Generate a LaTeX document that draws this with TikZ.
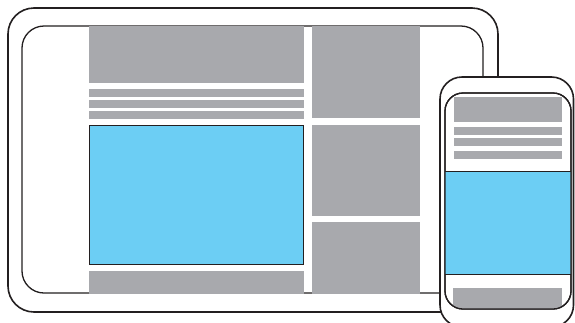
\documentclass[tikz,border=0pt]{standalone}
\usepackage{xcolor}
\usepackage{tikz}

\definecolor{panelgray}{HTML}{A8A9AD}
\definecolor{mediablue}{HTML}{6CCEF4}
\definecolor{rimline}{HTML}{231F20}

\begin{document}
\begin{tikzpicture}[
  x=1pt,y=-1pt,
  rim/.style={draw=rimline,line width=1.6pt,fill=white},
  panel/.style={fill=panelgray},
  media/.style={fill=mediablue,draw=rimline,line width=1pt}
]
\useasboundingbox (0,0) rectangle (575,322);
\clip (0,0) rectangle (575,322);

% tablet
\draw[rim,rounded corners=26pt] (8,8) rectangle (498,312);
\draw[rim,line width=1.3pt,rounded corners=22pt] (22,26) rectangle (483,293);
% main column
\fill[panel] (89,26) rectangle (304,83);
\foreach \y in {89,100,111}
  \fill[panel] (89,\y) rectangle (304,\y+8);
\draw[media] (89.5,125) rectangle (303.5,264);
\fill[panel] (89,271) rectangle (304,294);
% side column
\fill[panel] (312,26) rectangle (420,118);
\fill[panel] (312,125) rectangle (420,216);
\fill[panel] (312,222) rectangle (420,294);

% phone
\draw[rim,rounded corners=22pt] (440,77) rectangle (573.5,327);
\draw[rim,line width=1.3pt,rounded corners=18pt] (445,93) rectangle (571,309);
\begin{scope}
  \clip[rounded corners=18pt] (445,93) rectangle (571,309);
  \fill[panel] (454,97) rectangle (562,122);
  \foreach \y in {127,138,151}
    \fill[panel] (454,\y) rectangle (562,\y+8);
  \fill[mediablue] (445,171) rectangle (571,274);
  \draw[rimline,line width=1pt] (445,171) -- (571,171) (445,274) -- (571,274);
  \fill[panel] (453,288) rectangle (562,310);
\end{scope}
\draw[draw=rimline,line width=1.3pt,rounded corners=18pt] (445,93) rectangle (571,309);
\end{tikzpicture}
\end{document}
